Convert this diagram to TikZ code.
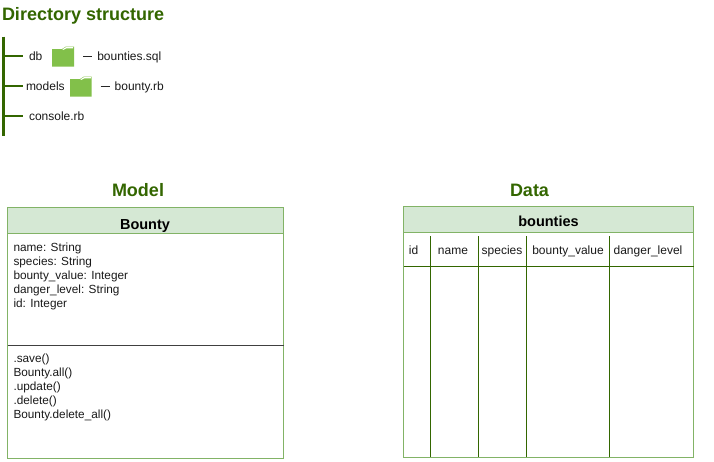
\documentclass[tikz,border=0pt]{standalone}
\usepackage{fontspec}
\setmainfont{Liberation Sans}
\definecolor{dkgreen}{HTML}{336600}
\definecolor{hdrfill}{HTML}{D5E8D4}
\definecolor{hdrline}{HTML}{82B366}
\definecolor{folder}{HTML}{82C04A}
\tikzset{
  every node/.style={inner sep=0pt,outer sep=0pt,font=\fontsize{12}{14}\selectfont,text=black!90},
  heading/.style={font=\fontsize{18}{20}\selectfont\bfseries,text=dkgreen},
  treeline/.style={draw=dkgreen,line width=2.6pt},
  entry/.style={anchor=base west},
  boxline/.style={draw=hdrline,line width=0.9pt},
  hdr/.style={boxline,fill=hdrfill},
  hdrtext/.style={anchor=base,font=\fontsize{14.5}{16}\selectfont\bfseries,text=black},
  rowline/.style={draw=dkgreen,line width=0.9pt},
  hcell/.style={anchor=base,font=\fontsize{12}{14}\selectfont},
  listing/.style={anchor=north west,align=left,font=\fontsize{11.8}{14}\selectfont}
}
\begin{document}
\begin{tikzpicture}[x=1pt,y=-1pt]
\useasboundingbox (0,0) rectangle (714,461);
% headings
\node[heading,anchor=base west] (dirtitle) at (2,20) {Directory structure};
\node[heading,anchor=base] (modeltitle) at (138,196) {Model};
\node[heading,anchor=base] (datatitle) at (529.5,196) {Data};
% tree
\coordinate (trunktop) at (3.5,36.5);
\coordinate (trunkend) at (3.5,136);
\coordinate (b1) at (3.5,56);
\coordinate (b2) at (3.5,86);
\coordinate (b3) at (3.5,116);
\coordinate (e1) at (23,56);
\coordinate (e2) at (23,86);
\coordinate (e3) at (23,116);
\draw[treeline] (trunktop) -- (trunkend);
\draw[treeline] (b1) -- (e1);
\draw[treeline] (b2) -- (e2);
\draw[treeline] (b3) -- (e3);
\node[entry] (db) at (29,60.5) {db};
\node[entry] (models) at (26,90.5) {models};
\node[entry] (console) at (29,120.5) {console.rb};
\coordinate (d1a) at (83,56);
\coordinate (d1b) at (92,56);
\coordinate (d2a) at (100.5,86);
\coordinate (d2b) at (109.5,86);
\draw[black!85,line width=0.9pt] (d1a) -- (d1b);
\draw[black!85,line width=0.9pt] (d2a) -- (d2b);
\node[entry] (sql) at (97.3,60.5) {bounties.sql};
\node[entry] (rb) at (114.7,90.5) {bounty.rb};
\fill[folder] (52,49) -- (62,49) -- (66,46.5) -- (74,46.5) -- (74,66.5) -- (52,66.5) -- cycle;
\fill[white] (62.5,49.2) -- (66.2,47) -- (73,47) -- (73,48.3) -- (66.5,48.3) -- (63,50) -- cycle;
\fill[folder] (70,79) -- (80,79) -- (84,76.5) -- (91.5,76.5) -- (91.5,96.5) -- (70,96.5) -- cycle;
\fill[white] (80.5,79.2) -- (84.2,77) -- (91,77) -- (91,78.3) -- (84.5,78.3) -- (81,80) -- cycle;
% model class
\node[hdr,minimum width=276pt,minimum height=26pt,anchor=north west] (bountyhdr) at (7.5,207.5) {};
\node[hdrtext] (bountylabel) at (145,229) {Bounty};
\node[boxline,draw,minimum width=276pt,minimum height=111.5pt,anchor=north west] (attrs) at (7.5,233.5) {};
\node[boxline,draw,minimum width=276pt,minimum height=113pt,anchor=north west] (methods) at (7.5,345) {};
\draw[draw=black!75,line width=0.7pt] (attrs.south west) -- (attrs.south east);
\node[listing] (attrtext) at (13.5,243) {name: String\\species: String\\bounty\_value: Integer\\danger\_level: String\\id: Integer};
\node[listing] (methtext) at (13.5,354) {.save()\\Bounty.all()\\.update()\\.delete()\\Bounty.delete\_all()};
% data table
\node[hdr,minimum width=290pt,minimum height=26pt,anchor=north west] (tblhdr) at (403.5,206.5) {};
\node[hdrtext] (tbllabel) at (548.5,226) {bounties};
\node[boxline,draw,minimum width=290pt,minimum height=224.5pt,anchor=north west] (tblbody) at (403.5,232.5) {};
\coordinate (rowL) at (403.5,266.5);
\coordinate (rowR) at (693.5,266.5);
\draw[rowline] (rowL) -- (rowR);
\foreach \nm/\cx in {c1/430.5,c2/478.5,c3/526.5,c4/609.5}{
  \coordinate (\nm t) at (\cx,236);
  \coordinate (\nm b) at (\cx,457);
  \draw[rowline] (\nm t) -- (\nm b);
}
\node[hcell] (hid) at (413.5,254) {id};
\node[hcell] (hname) at (453,254) {name};
\node[hcell] (hspecies) at (502,254) {species};
\node[hcell] (hvalue) at (568,254) {bounty\_value};
\node[hcell] (hdanger) at (648,254) {danger\_level};
\end{tikzpicture}
\end{document}
